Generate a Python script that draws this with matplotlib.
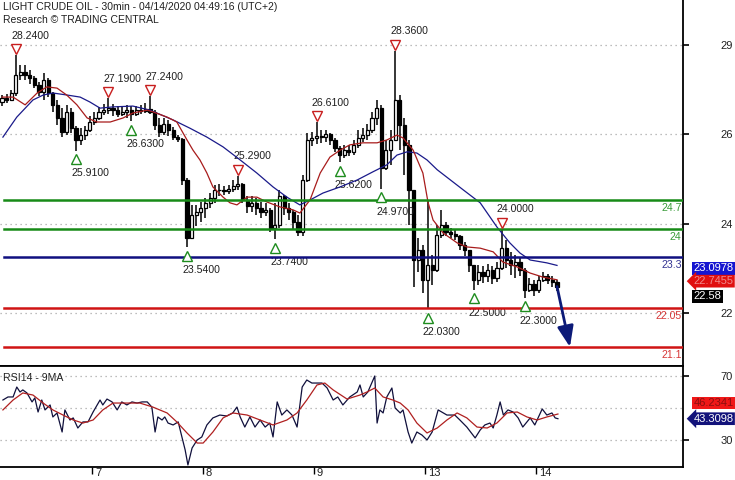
import matplotlib
matplotlib.use('Agg')
import matplotlib.pyplot as plt
from matplotlib.transforms import offset_copy, blended_transform_factory
import numpy as np

plt.rcParams['font.family'] = ['Liberation Sans', 'DejaVu Sans']

# ---------------- data ----------------
title_lines = ["LIGHT CRUDE OIL - 30min - 04/14/2020 04:49:16 (UTC+2)",
               "Research \u00a9 TRADING CENTRAL"]

first_open = 27.10
close = [27.20, 27.15, 27.32, 27.76, 27.83, 27.76, 27.69, 27.52, 27.35, 27.64,
         27.32, 27.03, 26.71, 26.37, 26.86, 26.46, 26.17, 26.29, 26.41, 26.61,
         26.71, 26.86, 26.90, 26.95, 26.90, 26.81, 26.86, 26.90, 26.81, 26.90,
         26.88, 26.93, 26.86, 26.54, 26.37, 26.56, 26.41, 26.24, 26.19, 25.19,
         23.77, 24.33, 24.41, 24.50, 24.63, 24.75, 24.95, 24.95, 24.92, 24.97,
         25.04, 25.09, 24.70, 24.55, 24.63, 24.50, 24.41, 24.46, 24.01, 24.09,
         24.80, 24.50, 24.41, 24.16, 23.92, 25.19, 26.17, 26.22, 26.27, 26.24,
         26.32, 26.17, 25.97, 25.80, 25.92, 25.88, 26.05, 26.22, 26.29, 26.41,
         26.71, 26.95, 25.48, 25.92, 26.17, 27.15, 26.54, 26.05, 24.95, 23.23,
         23.48, 22.74, 23.11, 22.99, 23.84, 24.09, 23.92, 23.87, 23.82, 23.60,
         23.48, 23.11, 22.74, 22.94, 22.84, 22.99, 22.79, 23.03, 23.52, 23.23,
         23.11, 23.18, 22.99, 22.50, 22.64, 22.50, 22.74, 22.84, 22.74, 22.69,
         22.58]
high = [27.27, 27.30, 27.39, 28.24, 28.01, 28.01, 27.88, 27.74, 27.59, 27.81,
        27.69, 27.35, 27.15, 26.95, 27.03, 26.95, 26.51, 26.46, 26.51, 26.76,
        26.86, 26.98, 27.05, 27.19, 27.05, 27.00, 27.00, 27.03, 27.00, 27.00,
        27.03, 27.08, 27.24, 26.90, 26.71, 26.71, 26.66, 26.49, 26.29, 26.22,
        25.24, 24.58, 24.58, 24.65, 24.75, 24.87, 25.07, 25.09, 25.04, 25.07,
        25.19, 25.29, 25.12, 24.80, 24.80, 24.75, 24.65, 24.63, 24.50, 24.63,
        24.95, 24.82, 24.63, 24.46, 24.33, 25.31, 26.34, 26.37, 26.61, 26.41,
        26.41, 26.34, 26.22, 26.02, 26.05, 26.05, 26.17, 26.41, 26.46, 26.56,
        26.86, 27.15, 27.03, 26.17, 26.41, 28.36, 27.27, 26.71, 26.17, 24.95,
        23.77, 23.60, 24.70, 23.35, 24.09, 24.46, 24.16, 24.01, 23.97, 23.84,
        23.67, 23.48, 23.11, 23.11, 23.09, 23.13, 23.09, 23.18, 24.00, 23.72,
        23.43, 23.35, 23.28, 23.03, 22.79, 22.74, 22.84, 22.94, 22.89, 22.84,
        22.74]
low = [27.00, 27.08, 27.12, 27.25, 27.64, 27.64, 27.54, 27.44, 27.25, 27.15,
       27.22, 26.86, 26.54, 26.24, 26.29, 26.34, 25.91, 26.05, 26.17, 26.37,
       26.54, 26.66, 26.78, 26.81, 26.76, 26.73, 26.76, 26.71, 26.63, 26.76,
       26.81, 26.83, 26.81, 26.41, 26.24, 26.29, 26.27, 26.17, 26.12, 25.07,
       23.54, 23.92, 24.06, 24.16, 24.26, 24.50, 24.63, 24.80, 24.82, 24.85,
       24.90, 24.95, 24.63, 24.38, 24.41, 24.33, 24.26, 24.31, 23.92, 23.74,
       24.01, 24.33, 24.21, 23.97, 23.82, 23.82, 25.14, 26.02, 26.07, 26.10,
       26.12, 26.05, 25.88, 25.62, 25.73, 25.78, 25.80, 25.97, 26.12, 26.17,
       26.34, 26.54, 24.97, 25.44, 25.56, 26.17, 25.92, 25.31, 24.09, 22.57,
       22.94, 22.42, 22.03, 22.62, 22.94, 23.77, 23.82, 23.77, 23.72, 23.48,
       23.33, 22.94, 22.50, 22.62, 22.67, 22.69, 22.64, 22.69, 22.99, 23.03,
       22.86, 22.79, 22.84, 22.30, 22.45, 22.35, 22.42, 22.69, 22.64, 22.57,
       22.47]

# moving averages (bar position, value)
ma_red_x = [0, 2.4, 5, 7.6, 9.7, 11.9, 14, 16.2, 18.4, 20.5, 23.4, 26.2, 28.3, 31.4,
            32.6, 35.7, 37.8, 40, 41.3, 42.8, 44.3, 45.6, 47.8, 49.3, 50.8, 53, 55.1,
            57.3, 60.1, 62.9, 64.4, 66.6, 68.8, 70.9, 73.1, 75.2, 78, 81.1, 83.2, 85.4,
            86.7, 88.9, 91, 92.1, 93.2, 95.4, 98.4, 100.5, 103.4, 106.2, 108.3, 111.4,
            114.2, 117, 120]
ma_red_v = [27.22, 27.22, 27.03, 27.32, 27.47, 27.44, 27.27, 27.03, 26.71, 26.61, 26.61,
            26.71, 26.83, 26.90, 26.86, 26.73, 26.61, 26.17, 25.92, 25.68, 25.36, 25.02,
            24.77, 24.63, 24.58, 24.77, 24.77, 24.65, 24.53, 24.46, 24.38, 24.70, 25.36,
            25.75, 25.92, 26.05, 26.10, 26.10, 26.17, 26.29, 26.22, 25.92, 25.36, 24.65,
            24.21, 23.89, 23.65, 23.55, 23.52, 23.43, 23.18, 23.06, 22.91, 22.81, 22.7455]
ma_blue_x = [0.2, 3.2, 6.7, 8.9, 11, 14.1, 16.9, 19, 21.2, 24, 28.3, 32, 37, 40.6, 44.3,
             47.8, 51.5, 55.1, 58.6, 61.6, 64.4, 66.6, 69.4, 73.1, 76.8, 80.2, 83.2,
             85.4, 87.6, 89.7, 91.9, 94.1, 99.7, 103.4, 107, 109.8, 112, 114.2, 117.8, 120]
ma_blue_v = [26.24, 26.73, 27.15, 27.27, 27.32, 27.27, 27.22, 27.10, 26.95, 26.98, 27.00,
             26.90, 26.66, 26.46, 26.24, 26.00, 25.68, 25.36, 25.02, 24.77, 24.58, 24.70,
             24.87, 25.02, 25.19, 25.39, 25.56, 25.80, 25.88, 25.85, 25.68, 25.44, 24.95,
             24.63, 24.04, 23.65, 23.40, 23.23, 23.16, 23.0978]

# RSI14 and its 9MA
rsi_x = [0.2, 1.3, 2.4, 3.2, 3.9, 4.5, 5.4, 6.5, 7.1, 7.8, 8.6, 9.3, 10.4, 11.0, 11.9, 13.0,
         13.6, 14.7, 15.4, 16.4, 17.5, 18.6, 19.7, 21.2, 21.8, 22.7, 23.8, 24.9, 25.9, 27.0,
         28.1, 29.2, 30.3, 31.4, 32.4, 33.1, 33.7, 34.6, 35.2, 35.9, 37.0, 38.1, 38.9, 39.6,
         40.2, 41.1, 42.2, 43.2, 44.3, 45.6, 47.1, 48.6, 49.9, 50.8, 51.5, 52.5, 53.6, 54.7,
         55.8, 56.9, 57.9, 58.6, 59.5, 60.5, 61.6, 62.7, 63.8, 64.9, 65.9, 67.0, 68.1, 69.2,
         70.3, 71.6, 72.6, 73.7, 75.2, 76.8, 77.4, 78.1, 79.1, 80.6, 81.1, 81.7, 82.4, 83.2,
         84.3, 85.0, 86.1, 86.7, 87.8, 88.6, 89.7, 90.8, 91.9, 93.0, 94.3, 96.2, 97.9, 99.0,
         100.5, 102.3, 103.4, 104.4, 105.5, 106.2, 107.0, 107.7, 108.4, 109.4, 110.5, 111.6,
         112.6, 113.5, 114.2, 115.2, 116.8, 117.8, 118.9, 119.6, 120.2]
rsi_v = [55.0, 56.9, 56.9, 63.1, 60.0, 61.3, 59.4, 53.8, 56.3, 47.5, 55.0, 48.8, 51.9, 44.4,
         46.9, 35.0, 48.8, 42.5, 43.8, 37.5, 41.3, 41.3, 47.5, 55.0, 51.9, 55.6, 53.8, 48.8,
         53.8, 51.9, 53.8, 53.1, 53.8, 53.8, 50.6, 35.0, 44.4, 42.5, 44.4, 40.6, 39.4, 41.3,
         31.9, 23.8, 14.4, 25.0, 30.0, 31.9, 39.4, 43.8, 45.6, 45.0, 46.9, 50.6, 44.4, 38.1,
         44.4, 38.1, 42.5, 38.1, 40.6, 31.9, 53.8, 45.6, 48.8, 45.6, 38.1, 63.1, 67.5, 65.6,
         65.6, 65.6, 62.5, 55.0, 56.9, 51.9, 56.9, 60.0, 64.4, 56.9, 60.0, 70.0, 40.6, 48.8,
         46.9, 56.9, 62.5, 50.0, 46.9, 48.8, 35.0, 28.1, 35.0, 33.1, 30.0, 35.0, 48.8, 45.6,
         45.6, 42.5, 38.1, 31.3, 36.3, 39.4, 40.6, 37.5, 45.6, 53.8, 45.6, 48.8, 47.5, 43.8,
         38.1, 41.3, 43.8, 39.4, 49.4, 45.6, 46.9, 43.8, 43.3098]
rsi_ma_x = [0.2, 2.4, 4.5, 6.7, 8.9, 11.0, 13.2, 15.4, 17.5, 19.7, 21.8, 24.0, 27.0, 29.8,
            32.6, 35.7, 37.8, 40.0, 42.2, 43.5, 45.6, 47.8, 49.9, 53.0, 55.8, 58.6, 61.6,
            63.8, 65.9, 68.1, 69.8, 71.6, 74.6, 77.4, 78.9, 80.6, 82.4, 84.5, 86.1, 87.8,
            89.7, 91.9, 94.1, 96.2, 98.4, 100.5, 102.7, 104.9, 107.0, 109.2, 111.4, 113.5,
            115.7, 117.8, 120.2]
rsi_ma_v = [48.8, 55.0, 59.4, 58.1, 53.1, 48.8, 45.6, 42.5, 40.6, 42.5, 48.8, 53.1, 53.1,
            53.1, 50.6, 46.9, 41.3, 34.4, 28.1, 28.1, 35.0, 43.8, 46.9, 45.6, 42.5, 39.4,
            42.5, 46.9, 55.0, 64.4, 65.6, 61.3, 55.6, 58.1, 60.0, 62.5, 56.9, 55.0, 53.1,
            48.8, 40.6, 34.4, 37.5, 42.5, 46.9, 43.8, 38.1, 37.5, 40.6, 46.9, 47.5, 44.4,
            42.5, 44.4, 46.2341]

# swing highs / lows
peak_bars = [3, 23, 32, 51, 68, 85, 108]
peak_vals = [28.24, 27.19, 27.24, 25.29, 26.61, 28.36, 24.00]
trough_bars = [16, 28, 40, 59, 73, 82, 92, 102, 113]
trough_vals = [25.91, 26.63, 23.54, 23.74, 25.62, 24.97, 22.03, 22.50, 22.30]

# key levels
levels = [24.7, 24.0, 23.3, 22.05, 21.1]
level_labels = ["24.7", "24", "23.3", "22.05", "21.1"]
level_colors = ["#178a17", "#178a17", "#101080", "#d01414", "#d01414"]

# forecast target
target_bar = 122.8
target_price = 21.1

# price axis grid (labels are rounded)
price_grid = [28.50, 26.32, 24.11, 21.93]
price_grid_labels = ["29", "26", "24", "22"]
rsi_grid = [70, 50, 30]
rsi_tick_labels = ["70", "30"]

# day separators
day_pos = [19.5, 43.5, 67.5, 91.5, 115.5]
day_labels = ["7", "8", "9", "13", "14"]

# ---------------- figure ----------------
W, H = 735, 480
fig = plt.figure(figsize=(W / 100, H / 100), dpi=100)
fig.patch.set_facecolor("white")
ax = fig.add_axes([0, 114 / H, 683 / W, 366 / H])
rsi = fig.add_axes([0, 13 / H, 683 / W, 101 / H])

xlim = (-0.43, 147.24)
for a in (ax, rsi):
    a.set_xlim(*xlim)
    a.set_facecolor("white")
    a.spines["left"].set_visible(False)
    for s in ("right", "bottom", "top"):
        a.spines[s].set_color("black")
        a.spines[s].set_linewidth(1.3)
    a.set_xticks([])
ax.spines["top"].set_visible(False)
ax.set_ylim(20.634, 29.598)
rsi.set_ylim(13.125, 76.25)

FS = 7.6

# grids
for g in price_grid:
    ax.axhline(g, color="#a8a8a8", lw=0.9, ls=(0, (1, 3)), zorder=0)
for g in rsi_grid:
    rsi.axhline(g, color="#a8a8a8", lw=0.9, ls=(0, (1, 3)), zorder=0)

# right y ticks
ax.yaxis.tick_right()
ax.set_yticks(price_grid)
ax.set_yticklabels(price_grid_labels)
ax.tick_params(axis="y", direction="out", length=4, width=1.2, pad=23,
               labelsize=8, labelcolor="#202020")
rsi.yaxis.tick_right()
rsi.set_yticks([rsi_grid[0], rsi_grid[2]])
rsi.set_yticklabels(rsi_tick_labels)
rsi.tick_params(axis="y", direction="out", length=4, width=1.2, pad=23,
                labelsize=8, labelcolor="#202020")

# x day ticks on rsi bottom
rsi.set_xticks(day_pos)
rsi.set_xticklabels([""] * len(day_pos))
rsi.tick_params(axis="x", direction="out", length=5, width=1)
trans_x = blended_transform_factory(rsi.transData, rsi.transAxes)
for p, lab in zip(day_pos, day_labels):
    rsi.annotate(lab, xy=(p, 0), xycoords=trans_x, xytext=(2, -1),
                 textcoords="offset points", ha="left", va="top", fontsize=8,
                 color="#202020", annotation_clip=False)

# candles
o = np.array([first_open] + close[:-1])
c = np.array(close)
h = np.array(high)
l = np.array(low)
x = np.arange(len(c))
top = np.maximum(np.maximum(h, o), c)
bot = np.minimum(np.minimum(l, o), c)
ax.vlines(x, bot, top, color="black", lw=1.1, zorder=2)
up = c >= o
ax.bar(x[up], (c - o)[up], bottom=o[up], width=0.7, color="white",
       edgecolor="black", lw=0.9, zorder=3)
ax.bar(x[~up], (c - o)[~up], bottom=o[~up], width=0.7, color="black",
       edgecolor="black", lw=0.9, zorder=3)

# moving averages
ax.plot(ma_blue_x, ma_blue_v, color="#1a1a8a", lw=0.9, zorder=4)
ax.plot(ma_red_x, ma_red_v, color="#a81c1c", lw=0.9, zorder=4)

# levels
for lv, lab, col in zip(levels, level_labels, level_colors):
    ax.axhline(lv, xmin=0.006, xmax=1, color=col, lw=1.8, zorder=5)
    ax.annotate(lab, xy=(1, lv), xycoords=ax.get_yaxis_transform(), xytext=(-1, -5.8),
                textcoords="offset points", ha="right", va="center", fontsize=FS,
                color=col, alpha=0.85)

# swing markers
up_tr = offset_copy(ax.transData, fig=fig, x=0, y=6, units="dots")
dn_tr = offset_copy(ax.transData, fig=fig, x=0, y=-8.5, units="dots")
for b, v in zip(peak_bars, peak_vals):
    ax.plot([b], [v], marker="v", ms=7.5, mfc="white", mec="#c81e1e", mew=1.0,
            transform=up_tr, zorder=6, clip_on=False)
    ax.annotate(f"{v:.4f}", xy=(b, v), xytext=(-3.5, 14.0), textcoords="offset points",
                ha="left", va="center", fontsize=FS, color="#202020")
for b, v in zip(trough_bars, trough_vals):
    ax.plot([b], [v], marker="^", ms=7.5, mfc="white", mec="#1e8c1e", mew=1.0,
            transform=dn_tr, zorder=6)
    ax.annotate(f"{v:.4f}", xy=(b, v), xytext=(-3.5, -16.5), textcoords="offset points",
                ha="left", va="center", fontsize=FS, color="#202020")

# forecast arrow
ax.annotate("", xy=(target_bar, target_price), xytext=(len(c) - 1, c[-1]),
            arrowprops=dict(arrowstyle="-|>,head_length=0.9,head_width=0.35",
                            color="#0c1a78", lw=2.0, shrinkA=0, shrinkB=0,
                            mutation_scale=14), zorder=7)

# value boxes on price axis
yax = ax.get_yaxis_transform()
ax.annotate(f"{ma_blue_v[-1]:.4f}", xy=(1, ma_blue_v[-1]), xycoords=yax,
            xytext=(7.5, -2), textcoords="offset points", ha="left", va="center",
            fontsize=8, color="white", annotation_clip=False,
            bbox=dict(boxstyle="square,pad=0.12", fc="#1515d0", ec="none"))
ax.annotate(f"{ma_red_v[-1]:.4f}", xy=(1, ma_red_v[-1]), xycoords=yax,
            xytext=(7.5, -1), textcoords="offset points", ha="left", va="center",
            fontsize=8, color="#f08a8a", annotation_clip=False,
            bbox=dict(boxstyle="larrow,pad=0.12", fc="#e01010", ec="none"))
ax.annotate(f"{close[-1]:.2f}", xy=(1, close[-1]), xycoords=yax,
            xytext=(7.5, -7), textcoords="offset points", ha="left", va="center",
            fontsize=8, color="white", annotation_clip=False,
            bbox=dict(boxstyle="square,pad=0.12", fc="black", ec="none"))

# RSI lines
rsi.plot(rsi_x, rsi_v, color="#10103c", lw=0.9, zorder=3)
rsi.plot(rsi_ma_x, rsi_ma_v, color="#b02020", lw=0.9, zorder=4)
ryax = rsi.get_yaxis_transform()
rsi.annotate(f"{rsi_ma_v[-1]:.4f}", xy=(1, rsi_ma_v[-1]), xycoords=ryax,
             xytext=(7.5, 8), textcoords="offset points", ha="left", va="center",
             fontsize=8, color="#8a1010", annotation_clip=False,
             bbox=dict(boxstyle="square,pad=0.12", fc="#f01818", ec="none"))
rsi.annotate(f"{rsi_v[-1]:.4f}", xy=(1, rsi_v[-1]), xycoords=ryax,
             xytext=(7.5, 0), textcoords="offset points", ha="left", va="center",
             fontsize=8, color="white", annotation_clip=False,
             bbox=dict(boxstyle="larrow,pad=0.12", fc="#12127a", ec="none"))
rsi.text(0.004, 0.93, "RSI14 - 9MA", transform=rsi.transAxes, ha="left", va="top",
         fontsize=FS, color="#202020")

# title
fig.text(3 / W, 1 - 7 / H, title_lines[0], ha="left", va="center", fontsize=7.5,
         color="#202020")
fig.text(3 / W, 1 - 20 / H, title_lines[1], ha="left", va="center", fontsize=7.5,
         color="#202020")

fig.savefig("out.png", dpi=100, facecolor="white")
